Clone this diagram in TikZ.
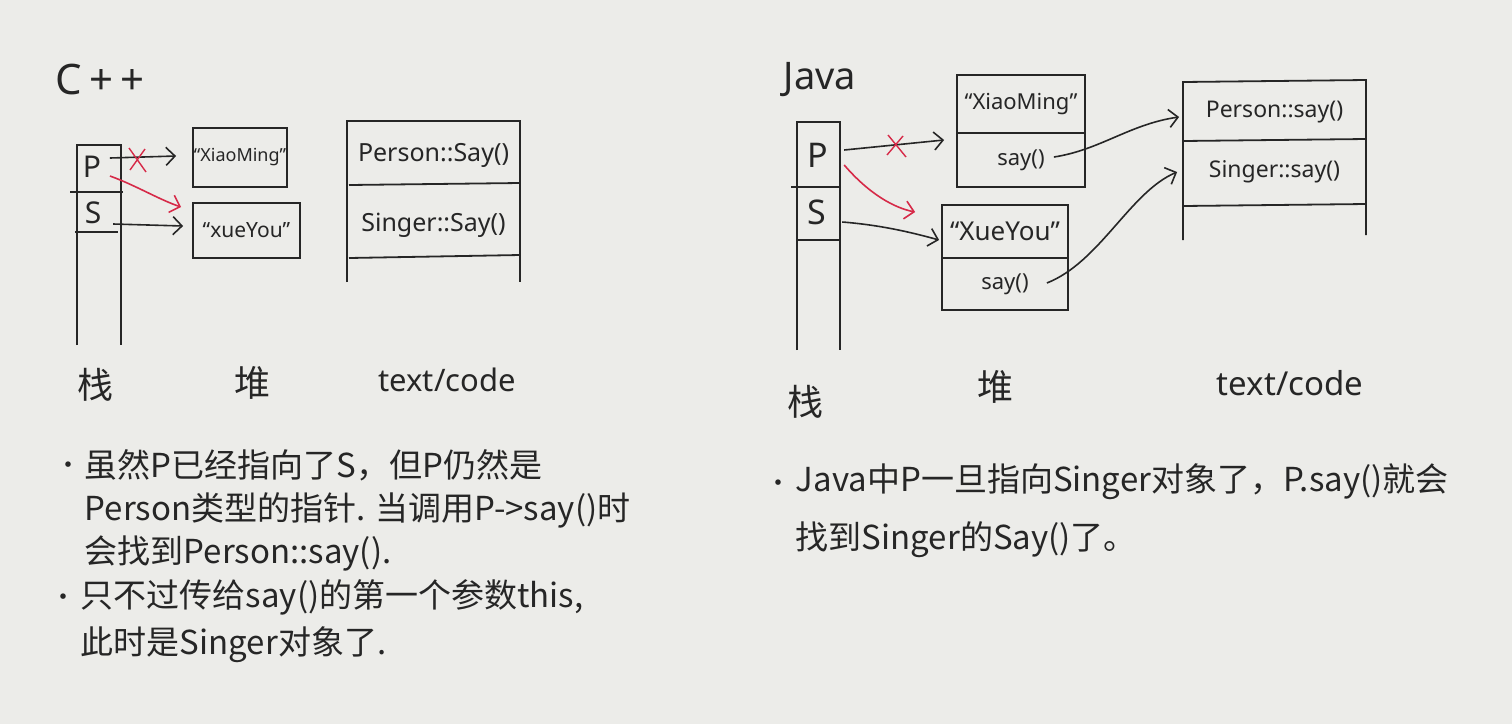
\documentclass[tikz,border=0pt]{standalone}
\usepackage{fontspec}
\setmainfont{Noto Sans CJK SC}
\newfontfamily\latinfont{Noto Sans}
\usetikzlibrary{arrows.meta,calc}
\definecolor{paper}{RGB}{236,236,233}
\definecolor{ink}{RGB}{38,38,38}
\definecolor{redink}{RGB}{214,42,72}
\begin{document}
\begin{tikzpicture}[x=1pt,y=-1pt,line width=1.8pt,
  every node/.style={text=ink,inner sep=0pt},
  heapbox/.style={draw=ink,line width=1.8pt,inner sep=0pt},
  codeent/.style={inner sep=0pt},
  ptr/.style={draw=ink,line width=1.6pt,-{Straight Barb[length=9pt,width=18pt,line width=1.6pt]}},
  redptr/.style={ptr,draw=redink},
  crossmark/.style={draw=redink,line width=1.4pt},
  title/.style={font=\latinfont\fontsize{42}{44}\selectfont},
  lbl/.style={font=\fontsize{36}{40}\selectfont},
  cellt/.style={font=\latinfont\fontsize{30}{32}\selectfont},
  note/.style={anchor=west,font=\fontsize{33}{40}\selectfont},
  bul/.style={font=\fontsize{26}{28}\selectfont}]
\fill[paper] (0,0) rectangle (1512,724);
\useasboundingbox (0,0) rectangle (1512,724);

% ---------------- C++ ----------------
\node[title] (cpp) at (100,80) {C\,+\,+};
% stack
\draw[ink] (77,345) -- (77,145) -- (121,145) -- (121,345);
\draw[ink] (70,192) -- (123,192);
\draw[ink] (75,232) -- (118,232);
\node[cellt] (lP) at (92,167) {P};
\node[cellt] (lS) at (93,213) {S};
% heap
\node[heapbox,minimum width=94pt,minimum height=59pt,font=\latinfont\fontsize{18}{20}\selectfont] (lXM) at (240,157.5) {“XiaoMing”};
\node[heapbox,minimum width=107pt,minimum height=55pt,font=\latinfont\fontsize{21}{22}\selectfont] (lXY) at (246.5,230.5) {“xueYou”};
% code
\draw[ink] (347,282) -- (347,121) -- (520,121) -- (520,282);
\draw[ink] (349,185) -- (520,183);
\draw[ink] (349,258) -- (520,255);
\node[codeent,minimum width=173pt,font=\latinfont\fontsize{25}{28}\selectfont] (lPs) at (433.5,155) {Person::Say()};
\node[codeent,minimum width=173pt,font=\latinfont\fontsize{25}{28}\selectfont] (lSs) at (433.5,225) {Singer::Say()};
% pointers
\draw[ptr] ($(lP.east)+(8,-9)$) -- ($(lXM.west)+(-16,-1.5)$);
\draw[crossmark] (129,148) -- (146,172) (145,149) -- (130,170);
\draw[redptr] ($(lP.east)+(8,9)$) .. controls (135,185) and (160,200) .. ($(lXY.west)+(-11,-23.5)$);
\draw[ptr] ($(lS.east)+(11,11)$) -- ($(lXY.west)+(-9,-4.5)$);
% labels
\node[lbl] (lstack) at (95,385) {栈};
\node[lbl] (lheap) at (252,383) {堆};
\node[lbl,font=\latinfont\fontsize{31}{34}\selectfont] (lcode) at (447,380) {text/code};

% notes
\node[bul] (lb1) at (68,468) {•};
\node[note] (ln1) at (84,465) {虽然P已经指向了S，但P仍然是};
\node[note] (ln2) at (84,510) {Person类型的指针. 当调用P->say()时};
\node[note] (ln3) at (84,553) {会找到Person::say().};
\node[bul] (lb2) at (63,600) {•};
\node[note] (ln4) at (80,597) {只不过传给say()的第一个参数this,};
\node[note] (ln5) at (80,645) {此时是Singer对象了.};

% ---------------- Java ----------------
\node[title,font=\latinfont\fontsize{38}{40}\selectfont] (java) at (820,80) {Java};
% stack
\draw[ink] (797,350) -- (797,122) -- (840,122) -- (840,350);
\draw[ink] (791,187) -- (840,187);
\draw[ink] (797,240) -- (840,240);
\node[cellt,font=\latinfont\fontsize{34}{36}\selectfont] (rP) at (818,155) {P};
\node[cellt,font=\latinfont\fontsize{34}{36}\selectfont] (rS) at (817,212) {S};
% heap
\node[heapbox,minimum width=128pt,minimum height=58pt,font=\latinfont\fontsize{22}{24}\selectfont] (rXM) at (1021,104) {“XiaoMing”};
\node[heapbox,minimum width=128pt,minimum height=54pt,font=\latinfont\fontsize{22}{24}\selectfont] (rXMs) at (1021,160) {say()};
\node[heapbox,minimum width=126pt,minimum height=53pt,font=\latinfont\fontsize{26}{28}\selectfont] (rXY) at (1005,231.5) {“XueYou”};
\node[heapbox,minimum width=126pt,minimum height=52pt,font=\latinfont\fontsize{22}{24}\selectfont] (rXYs) at (1005,284) {say()};
% code
\draw[ink] (1183,240) -- (1183,82) -- (1366,80) -- (1366,235);
\draw[ink] (1183,141) -- (1366,139);
\draw[ink] (1183,206) -- (1366,204);
\node[codeent,minimum width=183pt,font=\latinfont\fontsize{23}{26}\selectfont] (rPs) at (1274.5,112) {Person::say()};
\node[codeent,minimum width=183pt,font=\latinfont\fontsize{23}{26}\selectfont] (rSs) at (1274.5,172) {Singer::say()};
% pointers
\draw[ptr] ($(rP.east)+(15,-5)$) -- ($(rXMs.west)+(-12,-20)$);
\draw[crossmark] (888,135) -- (906,157) (903,136) -- (887,155);
\draw[redptr] ($(rP.east)+(15,10)$) .. controls (870,195) and (895,208) .. ($(rXY.west)+(-26,-19.5)$);
\draw[ptr] ($(rS.east)+(15,10)$) .. controls (880,225) and (910,232) .. ($(rXY.west)+(-2,8.5)$);
\draw[ptr] ($(rXMs.east)+(-32,-3)$) .. controls (1100,150) and (1130,124) .. ($(rPs.west)+(-3,5)$);
\draw[ptr] ($(rXYs.east)+(-22,-1)$) .. controls (1100,262) and (1130,192) .. ($(rSs.west)+(-5,0)$);
% labels
\node[lbl] (rstack) at (805,402) {栈};
\node[lbl] (rheap) at (995,387) {堆};
\node[lbl,font=\latinfont\fontsize{33}{36}\selectfont] (rcode) at (1290,383) {text/code};

% notes
\node[bul] (rb1) at (778,486) {•};
\node[note] (rn1) at (795,482) {Java中P一旦指向Singer对象了，P.say()就会};
\node[note] (rn2) at (795,540) {找到Singer的Say()了。};
\end{tikzpicture}
\end{document}
